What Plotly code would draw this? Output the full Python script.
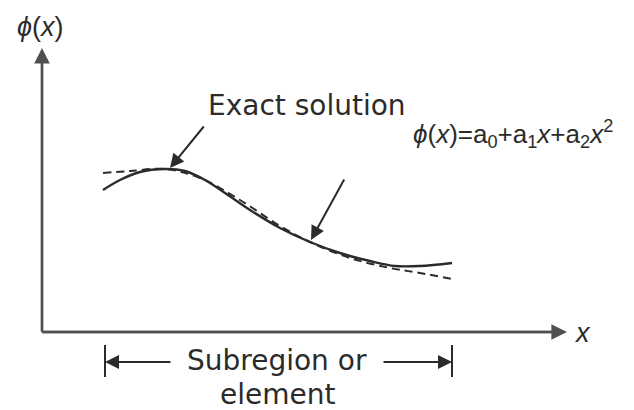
import plotly.graph_objects as go

# ---- data (diagram units: origin at the axes corner) ----
exact_x = [0.61, 0.78, 0.98, 1.23, 1.43, 1.63, 1.83, 2.08, 2.38, 2.68, 2.98, 3.28, 3.53, 3.78, 4.10]
exact_y = [1.42, 1.52, 1.60, 1.63, 1.61, 1.52, 1.39, 1.22, 1.04, 0.90, 0.79, 0.71, 0.66, 0.66, 0.69]

approx_x = [0.61, 0.88, 1.23, 1.58, 1.98, 2.38, 2.68, 3.08, 3.48, 3.78, 4.10]
approx_y = [1.59, 1.61, 1.63, 1.54, 1.32, 1.06, 0.90, 0.74, 0.64, 0.59, 0.53]

element_start = 0.63
element_end = 4.10

y_label = "<i>ϕ</i>(<i>x</i>)"
x_label = "<i>x</i>"
exact_label = "Exact solution"
approx_label = "<i>ϕ</i>(<i>x</i>)=a<sub>0</sub>+a<sub>1</sub><i>x</i>+a<sub>2</sub><i>x</i><sup>2</sup>"
element_label_1 = "Subregion or"
element_label_2 = "element"

INK = "#2b2b2b"
AXIS = "#505050"
FONT = "DejaVu Sans"
FONT2 = "Liberation Sans"

fig = go.Figure()
fig.add_trace(go.Scatter(x=exact_x, y=exact_y, mode="lines", line=dict(color=INK, width=2.4, shape="spline"),
                         hoverinfo="skip", showlegend=False))
fig.add_trace(go.Scatter(x=approx_x, y=approx_y, mode="lines",
                         line=dict(color=INK, width=2, shape="spline", dash="8px,5px"),
                         hoverinfo="skip", showlegend=False))


def arrow_ann(x0, y0, x1, y1, color, width, size):
    return dict(x=x1, y=y1, ax=x0, ay=y0, xref="x", yref="y", axref="x", ayref="y", text="",
                showarrow=True, arrowhead=2, arrowsize=size, arrowwidth=width, arrowcolor=color)


ann = [
    # axes
    arrow_ann(0, 0, 0, 2.84, AXIS, 2.4, 1.3),
    arrow_ann(-0.01, 0, 5.25, 0, AXIS, 2.4, 1.3),
    # pointer arrows
    arrow_ann(1.63, 2.07, 1.28, 1.64, INK, 2, 1.4),
    arrow_ann(3.03, 1.54, 2.69, 0.92, INK, 2, 1.4),
    # element dimension arrows
    arrow_ann(1.30, -0.30, element_start, -0.30, INK, 2, 1.4),
    arrow_ann(3.40, -0.30, element_end, -0.30, INK, 2, 1.4),
    # texts
    dict(x=-0.02, y=3.05, text=y_label, showarrow=False, font=dict(family=FONT2, size=27, color=INK)),
    dict(x=5.40, y=-0.01, text=x_label, showarrow=False, font=dict(family=FONT2, size=27, color=INK)),
    dict(x=2.65, y=2.27, text=exact_label, showarrow=False, font=dict(family=FONT, size=28, color=INK)),
    dict(x=4.71, y=1.98, text=approx_label, showarrow=False, font=dict(family=FONT2, size=26, color=INK)),
    dict(x=2.35, y=-0.28, text=element_label_1, showarrow=False, font=dict(family=FONT, size=28, color=INK)),
    dict(x=2.35, y=-0.62, text=element_label_2, showarrow=False, font=dict(family=FONT, size=28, color=INK)),
]

shapes = [
    dict(type="line", x0=0, y0=0, x1=0, y1=2.7, xref="x", yref="y", line=dict(color=AXIS, width=2.4)),
    dict(type="line", x0=0, y0=0, x1=5.1, y1=0, xref="x", yref="y", line=dict(color=AXIS, width=2.4)),
    dict(type="line", x0=element_start, y0=-0.13, x1=element_start, y1=-0.45, xref="x", yref="y",
         line=dict(color=INK, width=2)),
    dict(type="line", x0=element_end, y0=-0.13, x1=element_end, y1=-0.45, xref="x", yref="y",
         line=dict(color=INK, width=2)),
]

fig.update_layout(
    width=634, height=410,
    margin=dict(l=0, r=0, t=0, b=0),
    paper_bgcolor="white", plot_bgcolor="white",
    xaxis=dict(range=[-0.42, 5.92], visible=False, fixedrange=True),
    yaxis=dict(range=[-0.78, 3.32], visible=False, fixedrange=True),
    annotations=ann, shapes=shapes,
)

fig.write_html("out.html", config={"displayModeBar": False},
               post_script="document.body.style.margin='0px';document.body.style.overflow='hidden';")
